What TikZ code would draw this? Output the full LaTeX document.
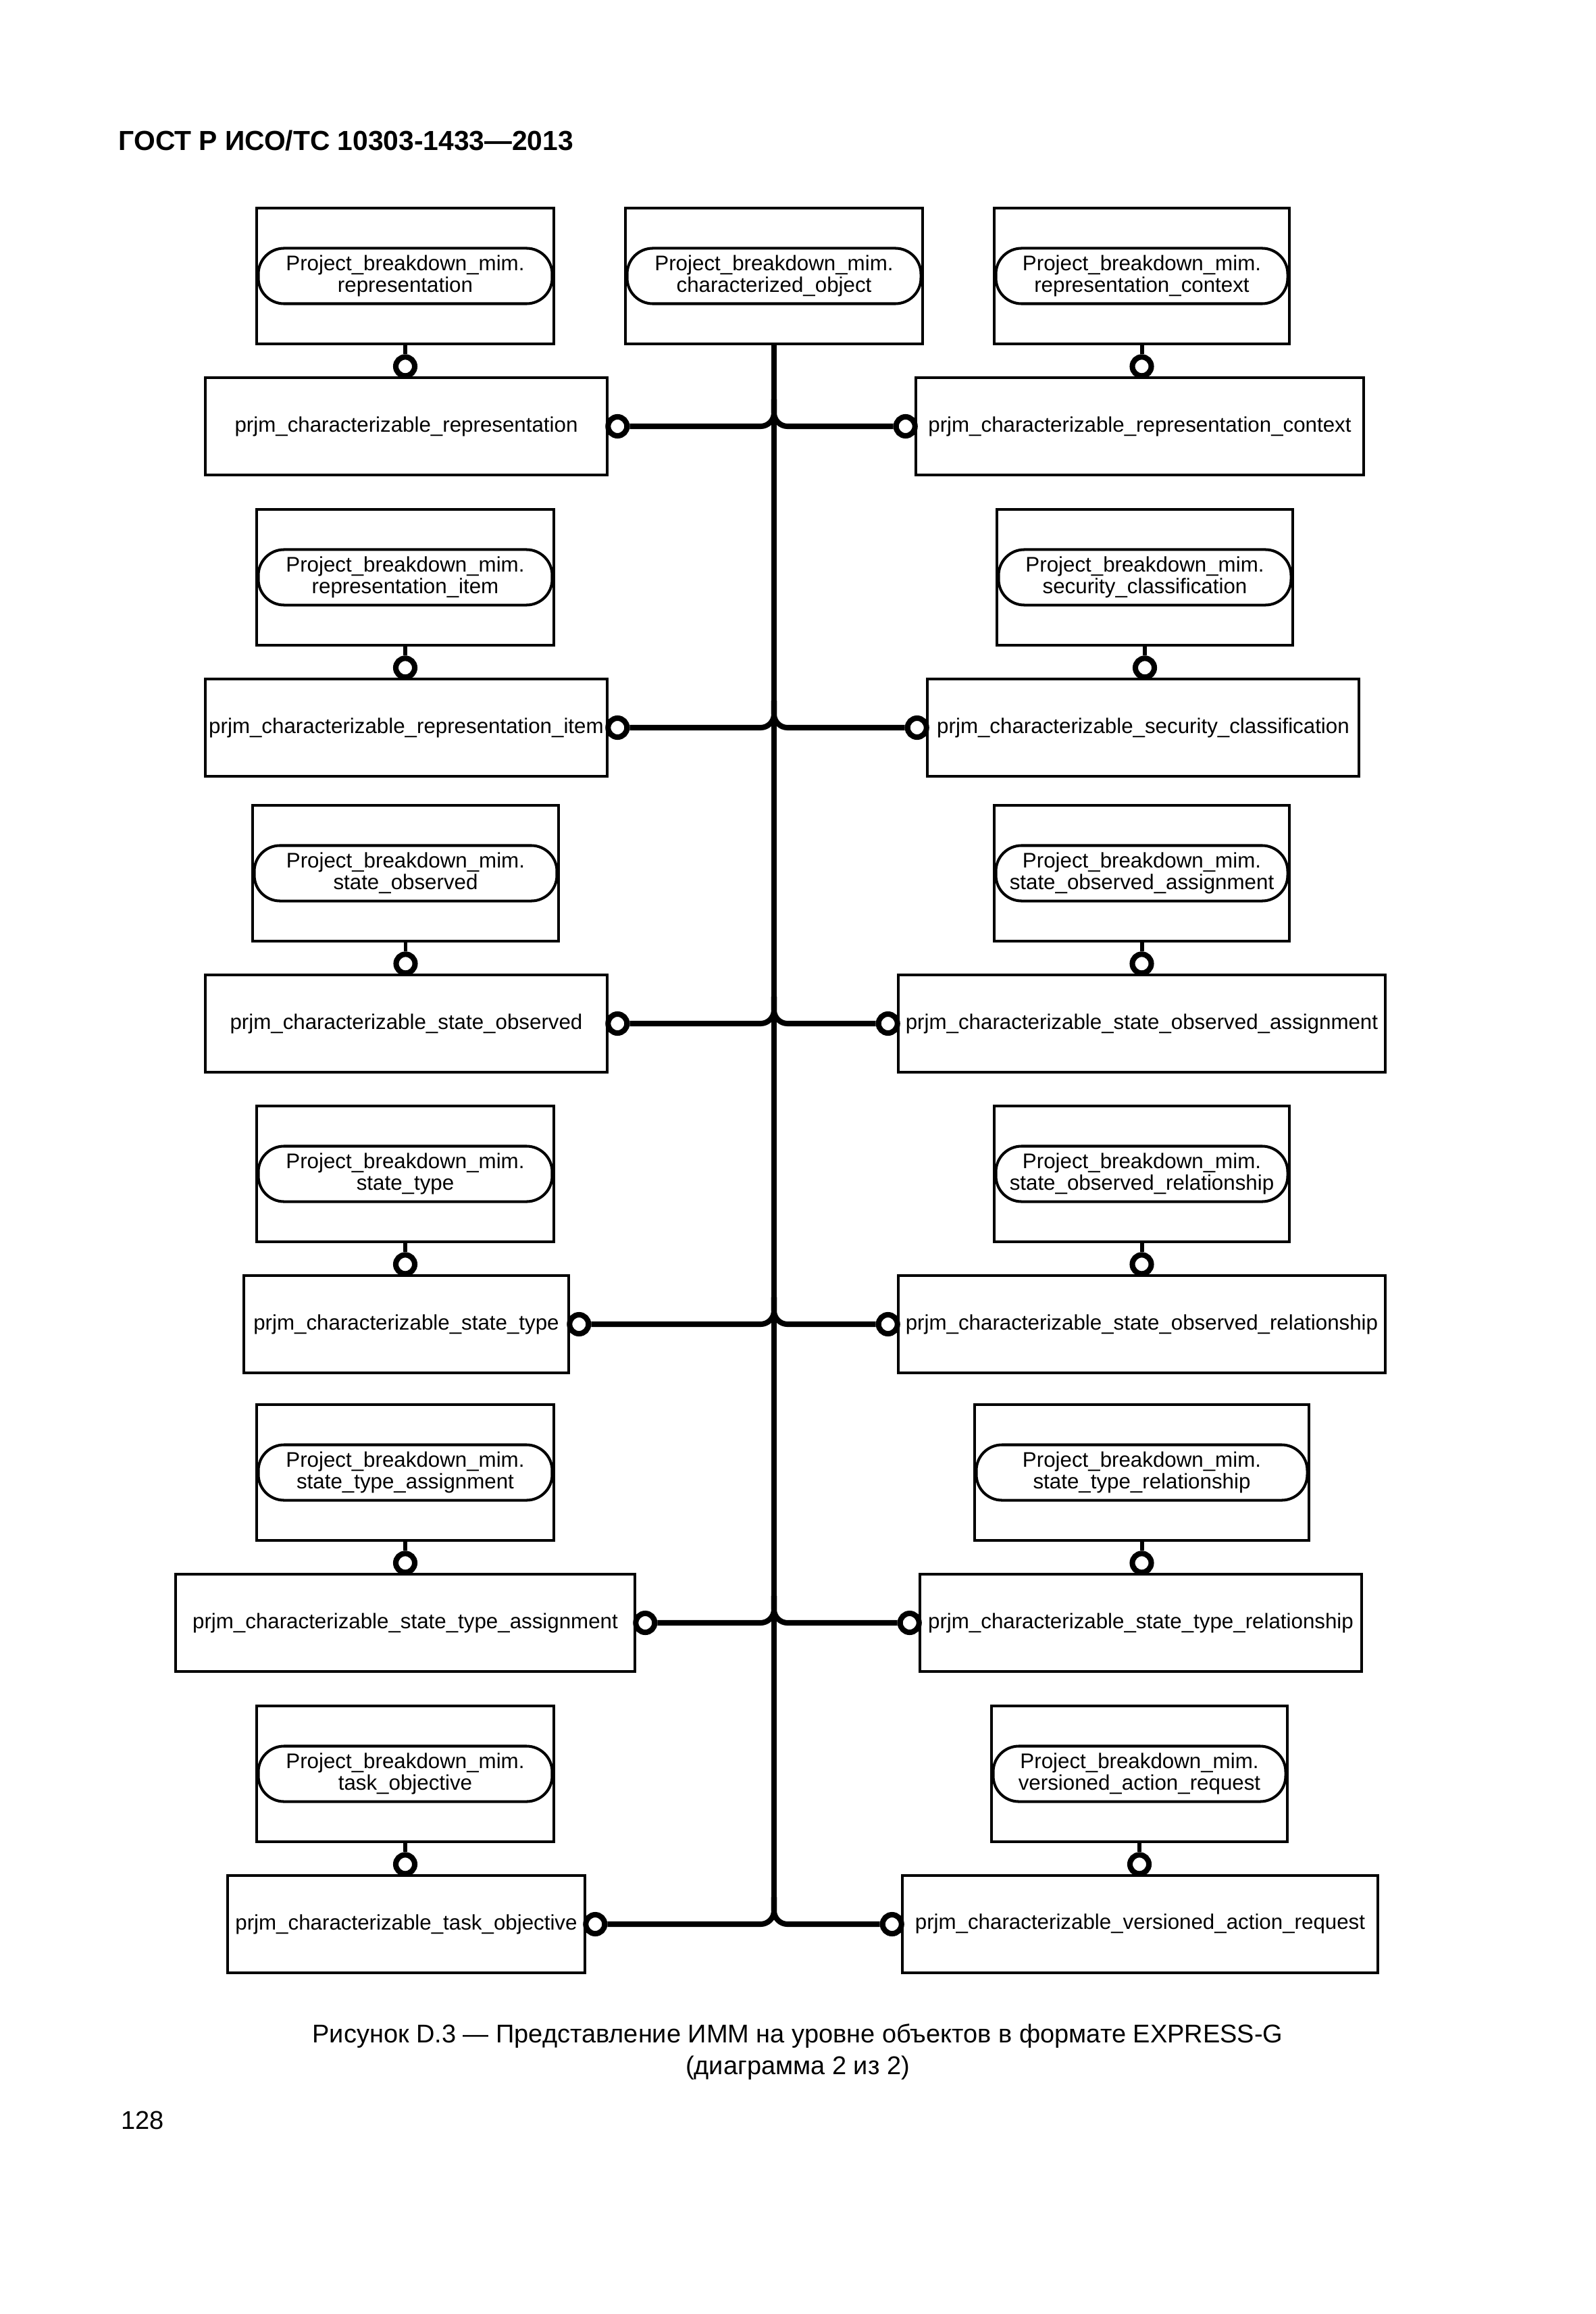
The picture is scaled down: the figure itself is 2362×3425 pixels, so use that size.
\documentclass[tikz,border=0pt]{standalone}
\usepackage{fontspec}
\setmainfont{Liberation Sans}
\usetikzlibrary{calc}
\tikzset{
  tbox/.style={draw, line width=1.3pt, rectangle, minimum height=2.01cm, inner sep=0pt},
  innerbox/.style={draw, line width=1.15pt, rectangle, rounded corners=0.38cm, minimum height=0.82cm,
    align=center, inner sep=0pt, font=\fontsize{8.9}{9.1}\selectfont},
  ent/.style={draw, line width=1.3pt, rectangle, minimum height=1.44cm, inner sep=0pt,
    font=\fontsize{8.9}{10}\selectfont},
  ring/.style={draw, circle, line width=2.3pt, minimum size=0.28cm, inner sep=0pt, fill=white},
  stem/.style={line width=1.7pt},
  branch/.style={line width=2.3pt, rounded corners=0.2cm},
  trunk/.style={line width=2.3pt},
}
\newcommand\tbx[5]{% name, x1, x2, top, second line
  \node[tbox, minimum width={(#3-#2)*0.01cm}] (#1) at ({(#2+#3)/2},{#4+100.5}) {};
  \node[innerbox, minimum width={(#3-#2-5)*0.01cm}] (#1i) at (#1.center) {Project\_breakdown\_mim.\\#5};
}
\newcommand\ebx[5]{% name, x1, x2, ycenter, text
  \node[ent, minimum width={(#3-#2)*0.01cm}] (#1) at ({(#2+#3)/2},#4) {#5};
}
\begin{document}
\begin{tikzpicture}[x=0.01cm, y=-0.01cm]
\useasboundingbox (0,0) rectangle (2362,3425);
\fill[white] (0,0) rectangle (2362,3425);

\node[anchor=west, inner sep=0pt, font=\bfseries\fontsize{11.6}{14}\selectfont] (hdr) at (175,208) {ГОСТ Р ИСО/ТС 10303-1433—2013};

% row 1
\tbx{t1l}{380}{820}{308}{representation}
\tbx{t1c}{926}{1366}{308}{characterized\_object}
\tbx{t1r}{1472}{1909}{308}{representation\_context}
\ebx{e1l}{304}{899}{631}{prjm\_characterizable\_representation}
\ebx{e1r}{1356}{2019}{631}{prjm\_characterizable\_representation\_context}
% row 2
\tbx{t2l}{380}{820}{754}{representation\_item}
\tbx{t2r}{1476}{1914}{754}{security\_classification}
\ebx{e2l}{304}{899}{1077}{prjm\_characterizable\_representation\_item}
\ebx{e2r}{1373}{2012}{1077}{prjm\_characterizable\_security\_classification}
% row 3
\tbx{t3l}{374}{827}{1192}{state\_observed}
\tbx{t3r}{1472}{1909}{1192}{state\_observed\_assignment}
\ebx{e3l}{304}{899}{1515}{prjm\_characterizable\_state\_observed}
\ebx{e3r}{1330}{2051}{1515}{prjm\_characterizable\_state\_observed\_assignment}
% row 4
\tbx{t4l}{380}{820}{1637}{state\_type}
\tbx{t4r}{1472}{1909}{1637}{state\_observed\_relationship}
\ebx{e4l}{361}{842}{1960}{prjm\_characterizable\_state\_type}
\ebx{e4r}{1330}{2051}{1960}{prjm\_characterizable\_state\_observed\_relationship}
% row 5
\tbx{t5l}{380}{820}{2079}{state\_type\_assignment}
\tbx{t5r}{1443}{1938}{2079}{state\_type\_relationship}
\ebx{e5l}{260}{940}{2402}{prjm\_characterizable\_state\_type\_assignment}
\ebx{e5r}{1362}{2016}{2402}{prjm\_characterizable\_state\_type\_relationship}
% row 6
\tbx{t6l}{380}{820}{2525}{task\_objective}
\tbx{t6r}{1468}{1906}{2525}{versioned\_action\_request}
\ebx{e6l}{337}{866}{2848}{prjm\_characterizable\_task\_objective}
\ebx{e6r}{1336}{2040}{2848}{\raisebox{0.08cm}{prjm\_characterizable\_versioned\_action\_request}}

% stems with rings
\foreach \r in {1,...,6}{
  \foreach \s in {l,r}{
    \node[ring] (s\r\s) at ($(t\r\s.south)+(0,31)$) {};
    \draw[stem] (t\r\s) -- (s\r\s);
  }
}

% branch rings, junctions and branches
\foreach \r in {1,...,6}{
  \node[ring] (b\r l) at ($(e\r l.east)+(13,0)$) {};
  \node[ring] (b\r r) at ($(e\r r.west)+(-13,0)$) {};
  \coordinate (j\r) at (t1c.south |- e\r l.center);
  \draw[branch] (b\r l) -- (j\r) -- ++(0,-40);
  \draw[branch] (b\r r) -- (j\r) -- ++(0,-40);
}

% trunk
\coordinate (tend) at ($(j6)+(0,-20)$);
\draw[trunk] (t1c) -- (tend);

% caption and page number
\node[align=center, inner sep=0pt, font=\fontsize{10.8}{13.1}\selectfont] (cap) at (1181,3037)
  {Рисунок D.3 — Представление ИММ на уровне объектов в формате EXPRESS-G\\(диаграмма 2 из 2)};
\node[anchor=west, inner sep=0pt, font=\fontsize{10.8}{13}\selectfont] (pg) at (179,3138) {128};
\end{tikzpicture}
\end{document}
